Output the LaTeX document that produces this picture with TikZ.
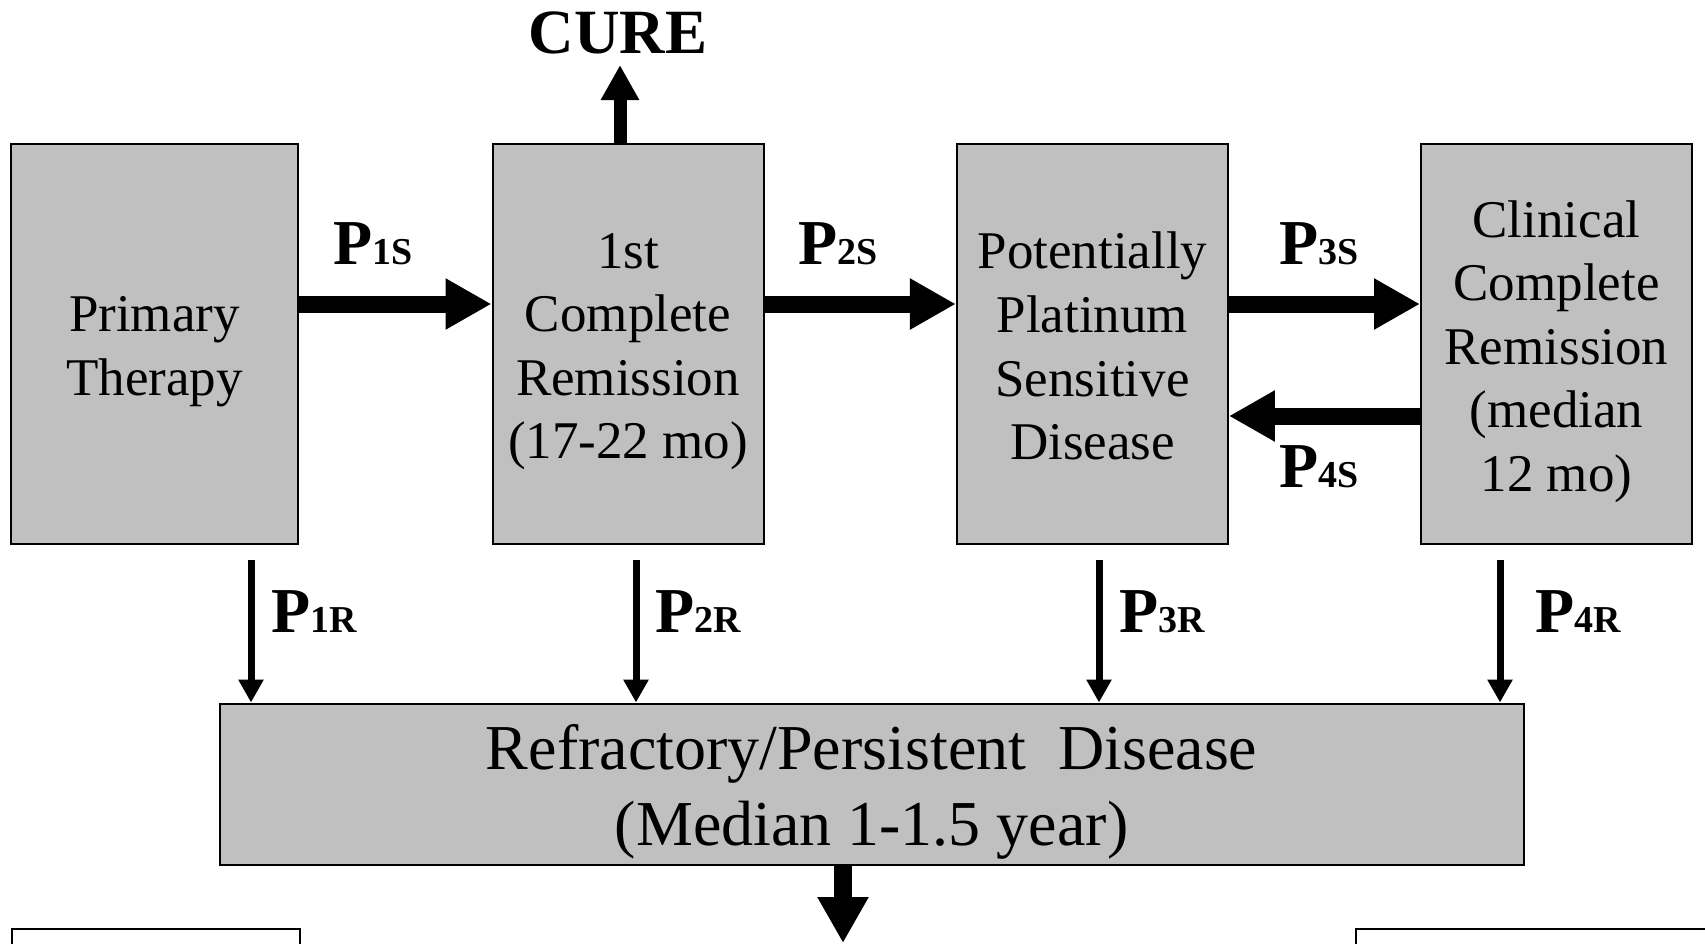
\documentclass[tikz,border=0pt]{standalone}
\usepackage{fontspec}
\setmainfont{Liberation Serif}
\usetikzlibrary{arrows.meta,calc}
\definecolor{boxgray}{HTML}{C0C0C0}
\newcommand\mypl[1]{P{\fontsize{38}{38}\selectfont #1}}
\begin{document}
\begin{tikzpicture}[x=1pt,y=-1pt,
 box/.style={draw=black,line width=2pt,fill=boxgray,inner sep=0pt},
 boxtext/.style={inner sep=0pt,align=center,font=\fontsize{53}{63.6}\selectfont},
 bigarr/.style={line width=17pt,-{Triangle[length=46pt,width=48pt]}},
 curearr/.style={line width=13pt,-{Triangle[length=35pt,width=36pt]}},
 thinarr/.style={line width=7pt,-{Triangle[length=23pt,width=24pt]}},
 plab/.style={font=\fontsize{64}{64}\selectfont\bfseries,anchor=base,inner sep=0pt}]
\useasboundingbox (0,0) rectangle (1705,943);
\clip (0,0) rectangle (1705,943);
\fill[white] (0,0) rectangle (1705,943);
% main boxes
\node[box,minimum width=287pt,minimum height=400pt] (b1) at (154.5,343.6) {};
\node[box,minimum width=271pt,minimum height=400pt] (b2) at (628,343.6) {};
\node[box,minimum width=271pt,minimum height=400pt] (b3) at (1092.4,343.6) {};
\node[box,minimum width=271pt,minimum height=400pt] (b4) at (1556.5,343.6) {};
\node[box,minimum width=1304pt,minimum height=161pt] (bot) at (871.6,784) {};
\node[boxtext] (t1) at ($(b1.center)+(0,8)$) {Primary\\Therapy};
\node[boxtext] (t2) at ($(b2.center)+(0,8)$) {1st\\Complete\\Remission\\(17-22 mo)};
\node[boxtext] (t3) at ($(b3.center)+(0,2.6)$) {Potentially\\Platinum\\Sensitive\\Disease};
\node[boxtext] (t4) at ($(b4.center)+(0,8)$) {Clinical\\Complete\\Remission\\(median\\12 mo)};
\node[boxtext,font=\fontsize{64}{76}\selectfont] (tb) at ($(bot.center)+(0,8)$) {Refractory/Persistent\ \ Disease\\(Median 1-1.5 year)};
% partial lower boxes
\node[draw=black,line width=2pt,fill=white,minimum width=288pt,minimum height=100pt,anchor=north west,inner sep=0pt] (c1) at (11,928) {};
\node[draw=black,line width=2pt,fill=white,minimum width=400pt,minimum height=100pt,anchor=north west,inner sep=0pt] (c2) at (1355,928) {};
% CURE
\node[font=\fontsize{63}{63}\selectfont\bfseries,anchor=base,inner sep=0pt] (cure) at (618,53) {CURE};
\coordinate (ctip) at (620,65);
\draw[curearr] (b2.north -| ctip) -- (ctip);
% horizontal arrows
\coordinate (ya) at (0,304);
\coordinate (yb) at (0,416);
\draw[bigarr] (b1.east |- ya) -- (b2.west |- ya);
\draw[bigarr] (b2.east |- ya) -- (b3.west |- ya);
\draw[bigarr] (b3.east |- ya) -- (b4.west |- ya);
\draw[bigarr] (b4.west |- yb) -- (b3.east |- yb);
\node[plab] (p1s) at (373,264) {\mypl{1S}};
\node[plab] (p2s) at (838,264) {\mypl{2S}};
\node[plab] (p3s) at (1319,264) {\mypl{3S}};
\node[plab] (p4s) at (1319,487) {\mypl{4S}};
% vertical arrows
\coordinate (v1) at (251,560);
\coordinate (v2) at (636,560);
\coordinate (v3) at (1099,560);
\coordinate (v4) at (1500,560);
\draw[thinarr] (v1) -- (v1 |- bot.north);
\draw[thinarr] (v2) -- (v2 |- bot.north);
\draw[thinarr] (v3) -- (v3 |- bot.north);
\draw[thinarr] (v4) -- (v4 |- bot.north);
\node[plab] (p1r) at (314,632) {\mypl{1R}};
\node[plab] (p2r) at (698,632) {\mypl{2R}};
\node[plab] (p3r) at (1162,632) {\mypl{3R}};
\node[plab] (p4r) at (1578,632) {\mypl{4R}};
% bottom arrow
\coordinate (btip) at (843,943);
\draw[bigarr,line width=18pt] (bot.south -| btip) -- (btip);
\end{tikzpicture}
\end{document}
